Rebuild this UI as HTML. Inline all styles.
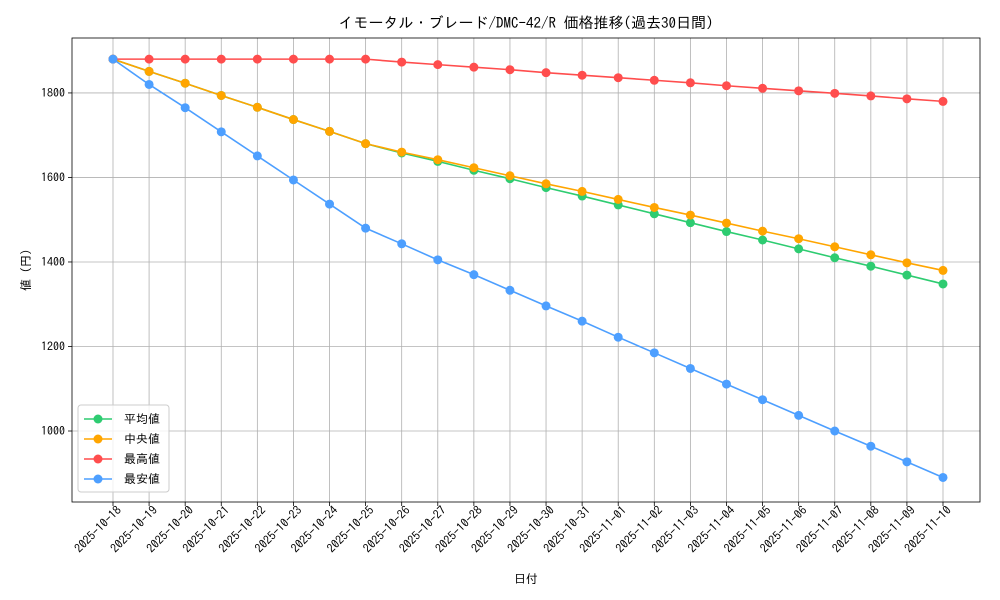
<!DOCTYPE html>
<html><head><meta charset="utf-8">
<style>
html,body{margin:0;padding:0;background:#fff;}
svg{display:block;font-family:"IPAGothic","Liberation Sans","Noto Sans CJK JP",sans-serif;}
</style></head>
<body>
<svg id="chart" width="1000" height="600" viewBox="0 0 1000 600"></svg>
<script>
const dates=["2025-10-18","2025-10-19","2025-10-20","2025-10-21","2025-10-22","2025-10-23","2025-10-24","2025-10-25","2025-10-26","2025-10-27","2025-10-28","2025-10-29","2025-10-30","2025-10-31","2025-11-01","2025-11-02","2025-11-03","2025-11-04","2025-11-05","2025-11-06","2025-11-07","2025-11-08","2025-11-09","2025-11-10"];
const meanVals=[1880,1851,1823,1794,1766,1737,1709,1680,1658,1638,1617,1597,1576,1556,1535,1514,1493,1472,1452,1431,1410,1390,1369,1348];
const medianVals=[1880,1851,1823,1794,1766,1737,1709,1680,1660,1642,1623,1604,1585,1567,1548,1529,1511,1492,1473,1455,1436,1417,1398,1380];
const maxVals=[1880,1880,1880,1880,1880,1880,1880,1880,1873,1867,1861,1855,1848,1842,1836,1830,1824,1817,1811,1805,1799,1793,1786,1780];
const minVals=[1880,1820,1765,1708,1651,1594,1537,1480,1443,1405,1370,1333,1296,1260,1222,1185,1148,1111,1074,1037,1000,964,927,890];
const yTicks=[1000,1200,1400,1600,1800];
const seriesNames=["平均値","中央値","最高値","最安値"];
const seriesColors=["#2ecc71","#ffa500","#ff4d4d","#4d9fff"];
</script>
<script>
const svg=document.getElementById('chart');
const NS='http://www.w3.org/2000/svg';
const L=72,R=980,T=38,B=502;
const n=dates.length;
const x0=113,x1=943;
function xs(i){return x0+(x1-x0)*i/(n-1);}
const yMin=832,yMax=1930;
function ys(v){return B-(v-yMin)/(yMax-yMin)*(B-T);}
function mk(tag,attrs,parent){const e=document.createElementNS(NS,tag);for(const k in attrs)e.setAttribute(k,attrs[k]);(parent||svg).appendChild(e);return e;}
dates.forEach((d,i)=>{const g=mk('line',{x1:xs(i),x2:xs(i),y1:T,y2:B,stroke:'#b0b0b0','stroke-width':0.8});

});
yTicks.forEach(v=>{const g=mk('line',{x1:L,x2:R,y1:ys(v),y2:ys(v),stroke:'#b0b0b0','stroke-width':0.8});

});
const fr=mk('rect',{x:L,y:T,width:R-L,height:B-T,fill:'none',stroke:'#000','stroke-width':0.8});


dates.forEach((d,i)=>{mk('line',{x1:xs(i),x2:xs(i),y1:B,y2:B+4,stroke:'#000','stroke-width':0.8});
const t=mk('text',{x:0,y:0,'font-size':12,'text-anchor':'end',transform:`translate(${xs(i)+9},${B+9}) rotate(-45)`});
t.textContent=d;

});
yTicks.forEach(v=>{mk('line',{x1:L-4,x2:L,y1:ys(v),y2:ys(v),stroke:'#000','stroke-width':0.8});
const t=mk('text',{x:L-7,y:ys(v)+4,'font-size':12,'text-anchor':'end'});
t.textContent=v;

});
const all=[meanVals,medianVals,maxVals,minVals];
all.forEach((vals,s)=>{
 const g=mk('g',{});
 
 
 mk('polyline',{points:vals.map((v,i)=>xs(i)+','+ys(v)).join(' '),fill:'none',stroke:seriesColors[s],'stroke-width':1.6},g);
 vals.forEach((v,i)=>{const c=mk('circle',{cx:xs(i),cy:ys(v),r:4.5,fill:seriesColors[s]},g);
 
 });
});
let t=mk('text',{x:(L+R)/2,y:28,'font-size':15,'text-anchor':'middle'});t.textContent='イモータル・ブレード/DMC-42/R 価格推移(過去30日間)';


t=mk('text',{x:(L+R)/2,y:583,'font-size':12,'text-anchor':'middle'});t.textContent='日付';


t=mk('text',{x:0,y:0,'font-size':12,'text-anchor':'middle',transform:`translate(30,${(T+B)/2}) rotate(-90)`});t.textContent='値 (円)';


const lg=mk('g',{});


mk('rect',{x:78,y:405,width:91,height:87,rx:3,fill:'#fff','fill-opacity':0.8,stroke:'#ccc'},lg);
seriesNames.forEach((nm,s)=>{const y=419+s*20;
 const e=mk('g',{},lg);
 
 
 mk('line',{x1:84,x2:112,y1:y,y2:y,stroke:seriesColors[s],'stroke-width':1.6},e);
 mk('circle',{cx:98,cy:y,r:4.5,fill:seriesColors[s]},e);
 const tt=mk('text',{x:124,y:y+4,'font-size':12},e);tt.textContent=nm;});
</script>
</body></html>
